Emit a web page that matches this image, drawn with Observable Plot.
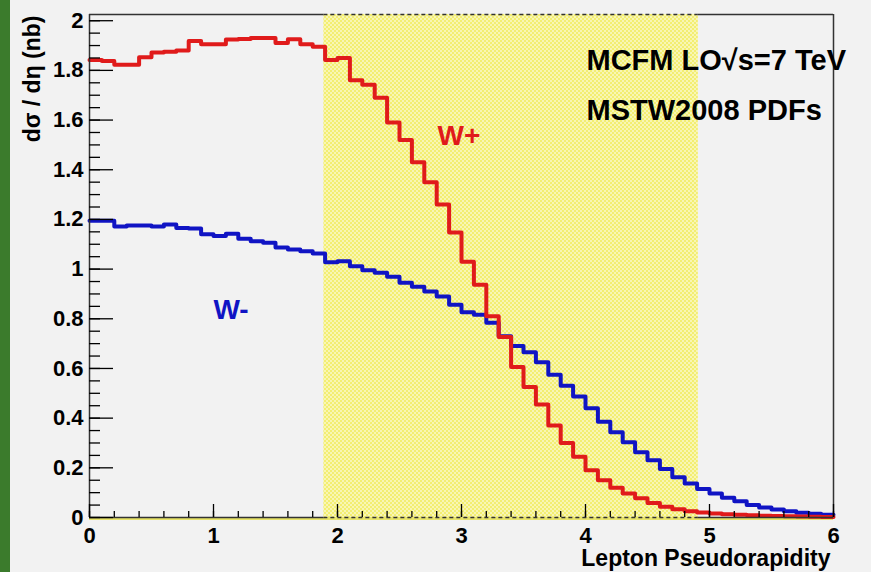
<!DOCTYPE html>
<html><head><meta charset="utf-8">
<script src="https://cdn.jsdelivr.net/npm/d3@7"></script>
<script src="https://cdn.jsdelivr.net/npm/@observablehq/plot@0.6"></script>
<style>
html,body{margin:0;padding:0;background:#f2f2f2;width:871px;height:572px;overflow:hidden;}
#chart{position:absolute;left:0;top:0;}
#stripe{position:absolute;left:0;top:0;width:10px;height:572px;background:#3b7b2c;}
</style></head><body>
<div id="chart"></div><div id="stripe"></div>
<script>
// Histogram: 60 bins of width 0.1 over lepton pseudorapidity 0..6
const binWidth = 0.1;
const xDomain = [0, 6];
const yDomain = [0, 2.025];
const wPlus = [1.842,1.838,1.823,1.823,1.853,1.872,1.875,1.88,1.918,1.905,
               1.905,1.924,1.926,1.93,1.93,1.91,1.925,1.905,1.895,1.842,
               1.85,1.76,1.742,1.69,1.59,1.52,1.43,1.35,1.26,1.147,
               1.03,0.937,0.81,0.727,0.606,0.525,0.455,0.37,0.30,0.245,
               0.19,0.15,0.12,0.097,0.077,0.058,0.043,0.033,0.025,0.02,
               0.016,0.013,0.011,0.009,0.007,0.006,0.005,0.004,0.003,0.002];
const wMinus = [1.195,1.195,1.172,1.176,1.176,1.172,1.18,1.165,1.163,1.14,
                1.133,1.142,1.122,1.112,1.106,1.087,1.079,1.072,1.063,1.028,
                1.032,1.011,0.995,0.985,0.969,0.945,0.929,0.91,0.89,0.857,
                0.826,0.816,0.784,0.73,0.69,0.665,0.625,0.575,0.53,0.487,
                0.44,0.385,0.343,0.303,0.263,0.23,0.195,0.162,0.137,0.115,
                0.097,0.08,0.065,0.05,0.04,0.032,0.025,0.019,0.015,0.011];
const band = [1.89, 4.91];
const yMajorTicks = [0,0.2,0.4,0.6,0.8,1,1.2,1.4,1.6,1.8,2];
const yMinorTicks = d3.range(0, 41).map(i => i * 0.05);
const xMajorTicks = [0,1,2,3,4,5,6];
const xMinorTicks = d3.range(0, 31).map(i => i * 0.2);
const texts = {
  yTitle: "dσ / dη (nb)",
  xTitle: "Lepton Pseudorapidity",
  line1: "MCFM LO√s=7 TeV",
  line2: "MSTW2008 PDFs",
  plus: "W+",
  minus: "W-"
};

function steps(values) {
  const pts = values.map((v, i) => ({x: i * binWidth, y: v}));
  pts.push({x: values.length * binWidth, y: values[values.length - 1]});
  return pts;
}
const redColor = "#e01b1b", blueColor = "#1014c4", frameColor = "#333";
const yTop = yDomain[1];
const fmt = d => String(+d.toFixed(1));

const svg = Plot.plot({
  width: 871, height: 572,
  marginLeft: 89, marginRight: 38, marginTop: 14, marginBottom: 55,
  x: {domain: xDomain, axis: null},
  y: {domain: yDomain, axis: null},
  style: {background: "transparent", fontFamily: "'Liberation Sans', Arial, sans-serif", fontWeight: "bold", color: "black"},
  marks: [
    Plot.rect([{a: band[0], b: band[1]}], {x1: "a", x2: "b", y1: () => yDomain[0], y2: () => yTop, fill: "url(#hatch)"}),
    Plot.ruleY([0], {x1: () => xDomain[0], x2: () => xDomain[1], stroke: "#e8e46a", strokeWidth: 3, dy: 1}),
    Plot.line(steps(wMinus), {x: "x", y: "y", curve: "step-after", stroke: blueColor, strokeWidth: 4}),
    Plot.line(steps(wPlus), {x: "x", y: "y", curve: "step-after", stroke: redColor, strokeWidth: 4}),
    // frame
    Plot.ruleX([xDomain[0], xDomain[1]], {y1: () => yDomain[0], y2: () => yTop, stroke: frameColor, strokeWidth: 1.5}),
    Plot.ruleY([yTop, 0], {x1: () => xDomain[0], x2: () => band[0], stroke: frameColor, strokeWidth: 1.5}),
    Plot.ruleY([yTop, 0], {x1: () => band[1], x2: () => xDomain[1], stroke: frameColor, strokeWidth: 1.5}),
    Plot.ruleY([yTop, 0], {x1: () => band[0], x2: () => band[1], stroke: frameColor, strokeWidth: 1.5, strokeDasharray: "4,3"}),
    // y ticks (inside)
    Plot.axisY({ticks: yMinorTicks, tickSize: 11, dx: 11, tickFormat: () => "", label: null, stroke: "black", strokeWidth: 1.3}),
    Plot.axisY({ticks: yMajorTicks, tickSize: 24, dx: 24, tickFormat: () => "", label: null, stroke: "black", strokeWidth: 1.3}),
    Plot.axisY({ticks: yMajorTicks, tickSize: 0, tickPadding: 6, tickFormat: fmt, label: null, fontSize: 22, fontWeight: "bold"}),
    // x ticks (inside)
    Plot.axisX({ticks: xMinorTicks, tickSize: 6, dy: -6, tickFormat: () => "", label: null, stroke: "black", strokeWidth: 1.3}),
    Plot.axisX({ticks: xMajorTicks, tickSize: 13, dy: -13, tickFormat: () => "", label: null, stroke: "black", strokeWidth: 1.3}),
    Plot.axisX({ticks: xMajorTicks, tickSize: 0, tickPadding: 10, tickFormat: fmt, label: null, fontSize: 22, fontWeight: "bold"}),
    // titles and annotations
    Plot.text([texts.yTitle], {text: d => d, frameAnchor: "top-left", dx: -50, dy: 1, rotate: -90, textAnchor: "end", lineAnchor: "bottom", fontSize: 23, fontWeight: "bold"}),
    Plot.text([texts.xTitle], {text: d => d, frameAnchor: "bottom-right", dx: -3, dy: 48, textAnchor: "end", lineAnchor: "bottom", fontSize: 23, fontWeight: "bold"}),
    Plot.text([texts.line1], {text: d => d, frameAnchor: "top-left", dx: 497, dy: 55, textAnchor: "start", lineAnchor: "bottom", fontSize: 29, fontWeight: "bold"}),
    Plot.text([texts.line2], {text: d => d, frameAnchor: "top-left", dx: 497, dy: 105, textAnchor: "start", lineAnchor: "bottom", fontSize: 29, fontWeight: "bold"}),
    Plot.text([texts.plus], {text: d => d, frameAnchor: "top-left", dx: 348, dy: 130, textAnchor: "start", lineAnchor: "bottom", fontSize: 28, fontWeight: "bold", fill: redColor}),
    Plot.text([texts.minus], {text: d => d, frameAnchor: "top-left", dx: 124, dy: 304, textAnchor: "start", lineAnchor: "bottom", fontSize: 28, fontWeight: "bold", fill: blueColor})
  ]
});
svg.insertAdjacentHTML("afterbegin",
  '<defs><pattern id="hatch" width="4" height="4" patternUnits="userSpaceOnUse">' +
  '<rect width="4" height="4" fill="#f8f6b4"/>' +
  '<rect x="0" y="0" width="2" height="2" fill="#f3ee72"/>' +
  '<rect x="2" y="2" width="2" height="2" fill="#f3ee72"/>' +
  '</pattern></defs>');
document.getElementById("chart").appendChild(svg);
</script>
</body></html>
